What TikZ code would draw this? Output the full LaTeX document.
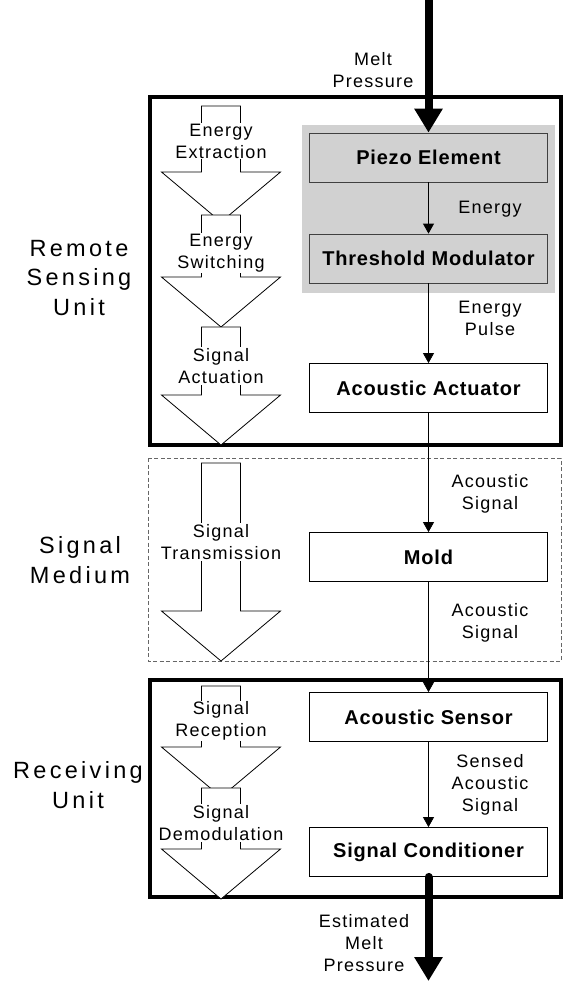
\documentclass[tikz,border=0pt]{standalone}
\usepackage{fontspec}
\setmainfont{Liberation Sans}
\newfontfamily\lblfont{Liberation Sans}[LetterSpace=7]
\newfontfamily\boxfont{Liberation Sans}[LetterSpace=4]
\newfontfamily\unitfont{Liberation Sans}[LetterSpace=14]
\usetikzlibrary{arrows.meta}
\begin{document}
\begin{tikzpicture}[x=1pt, y=-1pt, line join=miter,
    unitframe/.style={draw, line width=3.5pt},
    mediumframe/.style={draw=black!60, dashed, line width=0.8pt, dash pattern=on 4pt off 2.5pt},
    stagebox/.style={draw, line width=0.8pt, minimum width=238pt, minimum height=49pt, inner sep=0pt,
      font=\boxfont\bfseries\fontsize{20}{24}\selectfont},
    flowlabel/.style={align=center, inner sep=0pt, font=\lblfont\fontsize{18}{22}\selectfont},
    phasearrow/.style={draw, fill=white, line width=0.8pt},
    phaselabel/.style={fill=white, inner sep=1pt, align=center, font=\lblfont\fontsize{18}{22}\selectfont},
    unitlabel/.style={align=center, inner sep=0pt, font=\unitfont\fontsize{23.5}{29.5}\selectfont},
    flow/.style={-{Triangle[length=10pt, width=11pt]}, line width=0.8pt},
    bigflow/.style={-{Triangle[length=24pt, width=27pt]}, line width=8pt}]
  \useasboundingbox (0,0) rectangle (563,983);

  % Rahmen der drei Einheiten
  \draw[unitframe] (150,97) rectangle (561,445);
  \draw[mediumframe] (148,458) rectangle (561,661);
  \draw[unitframe] (150,680) rectangle (561,897);

  % grau hinterlegter Bereich um Piezo und Modulator
  \fill[black!18] (302,125) rectangle (555,293);

  % Bloecke der Signalkette
  \node[stagebox, draw=black!75] (piezo) at (428.5,157.5) {Piezo Element};
  \node[stagebox, draw=black!75] (modulator) at (428.5,258.5) {Threshold Modulator};
  \node[stagebox] (actuator) at (428.5,388) {Acoustic Actuator};
  \node[stagebox] (mold) at (428.5,557) {Mold};
  \node[stagebox] (sensor) at (428.5,717) {Acoustic Sensor};
  \node[stagebox] (conditioner) at (428.5,852) {Signal Conditioner};

  % Ein- und Ausgang
  \coordinate (input) at (428.5,0);
  \coordinate (output) at (428.5,981);
  \draw[bigflow] (input) -- (piezo.north);
  \draw[bigflow, line cap=round] (conditioner.south) -- (output);

  % duenne Verbindungen
  \draw[flow] (piezo) -- (modulator);
  \draw[flow] (modulator) -- (actuator);
  \draw[flow] (actuator) -- (mold);
  \draw[flow] (mold) -- (sensor);
  \draw[flow] (sensor) -- (conditioner);

  % Beschriftungen der Verbindungen
  \node[flowlabel] (l-melt) at (373,70) {Melt\\Pressure};
  \node[flowlabel] (l-energy) at (490,209) {Energy};
  \node[flowlabel] (l-pulse) at (490,318) {Energy\\Pulse};
  \node[flowlabel] (l-sig1) at (490,494) {Acoustic\\Signal};
  \node[flowlabel] (l-sig2) at (490,623) {Acoustic\\Signal};
  \node[flowlabel] (l-sensed) at (490,785) {Sensed\\Acoustic\\Signal};
  \node[flowlabel] (l-est) at (364,943) {Estimated\\Melt\\Pressure};

  % Phasenpfeile links (Schaft 201.5..240.5, Kopf 161.5..280.5)
  \draw[phasearrow] (201.5,106) -- (240.5,106) -- (240.5,172) -- (280.5,172) -- (221,222)
    -- (161.5,172) -- (201.5,172) -- cycle;
  \node[phaselabel] (p-extract) at (221,141) {Energy\\Extraction};
  \draw[phasearrow] (201.5,215) -- (240.5,215) -- (240.5,277) -- (280.5,277) -- (221,327)
    -- (161.5,277) -- (201.5,277) -- cycle;
  \node[phaselabel] (p-switch) at (221,253) {Energy\\Switching};
  \draw[phasearrow] (201.5,327) -- (240.5,327) -- (240.5,395) -- (280.5,395) -- (221,445)
    -- (161.5,395) -- (201.5,395) -- cycle;
  \node[phaselabel] (p-actuate) at (221,366) {Signal\\Actuation};
  \draw[phasearrow] (201.5,463) -- (240.5,463) -- (240.5,611) -- (280.5,611) -- (221,661)
    -- (161.5,611) -- (201.5,611) -- cycle;
  \node[phaselabel] (p-transmit) at (221,542) {Signal\\Transmission};
  \draw[phasearrow] (201.5,686) -- (240.5,686) -- (240.5,747) -- (280.5,747) -- (221,797)
    -- (161.5,747) -- (201.5,747) -- cycle;
  \node[phaselabel] (p-receive) at (221,721) {Signal\\Reception};
  \draw[phasearrow] (201.5,788) -- (240.5,788) -- (240.5,849) -- (280.5,849) -- (221,899)
    -- (161.5,849) -- (201.5,849) -- cycle;
  \node[phaselabel] (p-demod) at (221,823) {Signal\\Demodulation};

  % Namen der Einheiten
  \node[unitlabel] (u-remote) at (79,278) {Remote\\Sensing\\Unit};
  \node[unitlabel] (u-medium) at (80,560) {Signal\\Medium};
  \node[unitlabel] (u-receive) at (78,785) {Receiving\\Unit};
\end{tikzpicture}
\end{document}
